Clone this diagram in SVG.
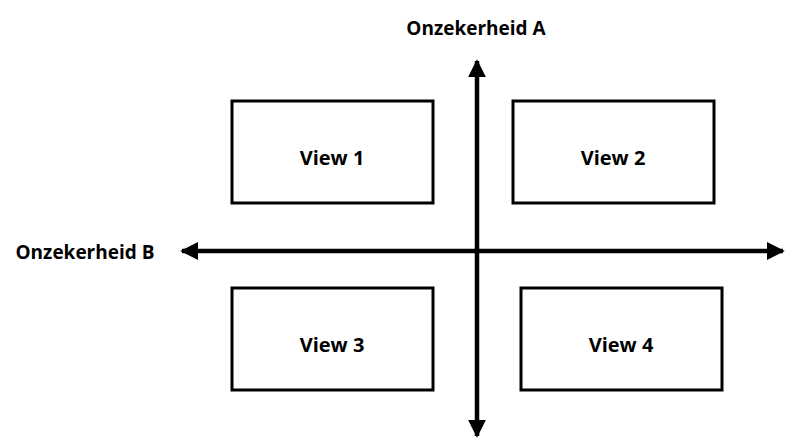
<svg xmlns="http://www.w3.org/2000/svg" width="785" height="440" viewBox="0 0 785 440">
  <style>
    .box { fill: #ffffff; stroke: #000000; stroke-width: 3; }
    .lbl { font-family: "Open Sans", "Liberation Sans", sans-serif; font-weight: bold; font-size: 19px; fill: #000000; text-anchor: middle; dominant-baseline: central; }
    .view { font-size: 20px; }
    .axis { stroke: #000000; stroke-width: 4.5; fill: none; }
  </style>
  <defs>
    <marker id="head" viewBox="0 0 10 10" refX="9" refY="5" markerWidth="4" markerHeight="4" orient="auto-start-reverse" markerUnits="strokeWidth">
      <path d="M0,0 L10,5 L0,10 Z" fill="#000000"/>
    </marker>
  </defs>

  <!-- axes -->
  <g id="connectors">
    <line class="axis" x1="477" y1="61" x2="477" y2="436" marker-start="url(#head)" marker-end="url(#head)"/>
    <line class="axis" x1="182" y1="251" x2="783" y2="251" marker-start="url(#head)" marker-end="url(#head)"/>
  </g>

  <g id="axis-a"><text class="lbl" x="476" y="28">Onzekerheid A</text></g>
  <g id="axis-b"><text class="lbl" x="85" y="252">Onzekerheid B</text></g>

  <g id="view1">
    <rect class="box" x="232" y="101" width="201" height="102"/>
    <text class="lbl view" x="332" y="157">View 1</text>
  </g>
  <g id="view2">
    <rect class="box" x="513" y="101" width="201" height="102"/>
    <text class="lbl view" x="613" y="157">View 2</text>
  </g>
  <g id="view3">
    <rect class="box" x="232" y="288" width="201" height="102"/>
    <text class="lbl view" x="332" y="344">View 3</text>
  </g>
  <g id="view4">
    <rect class="box" x="521" y="288" width="201" height="102"/>
    <text class="lbl view" x="621" y="344">View 4</text>
  </g>
</svg>
